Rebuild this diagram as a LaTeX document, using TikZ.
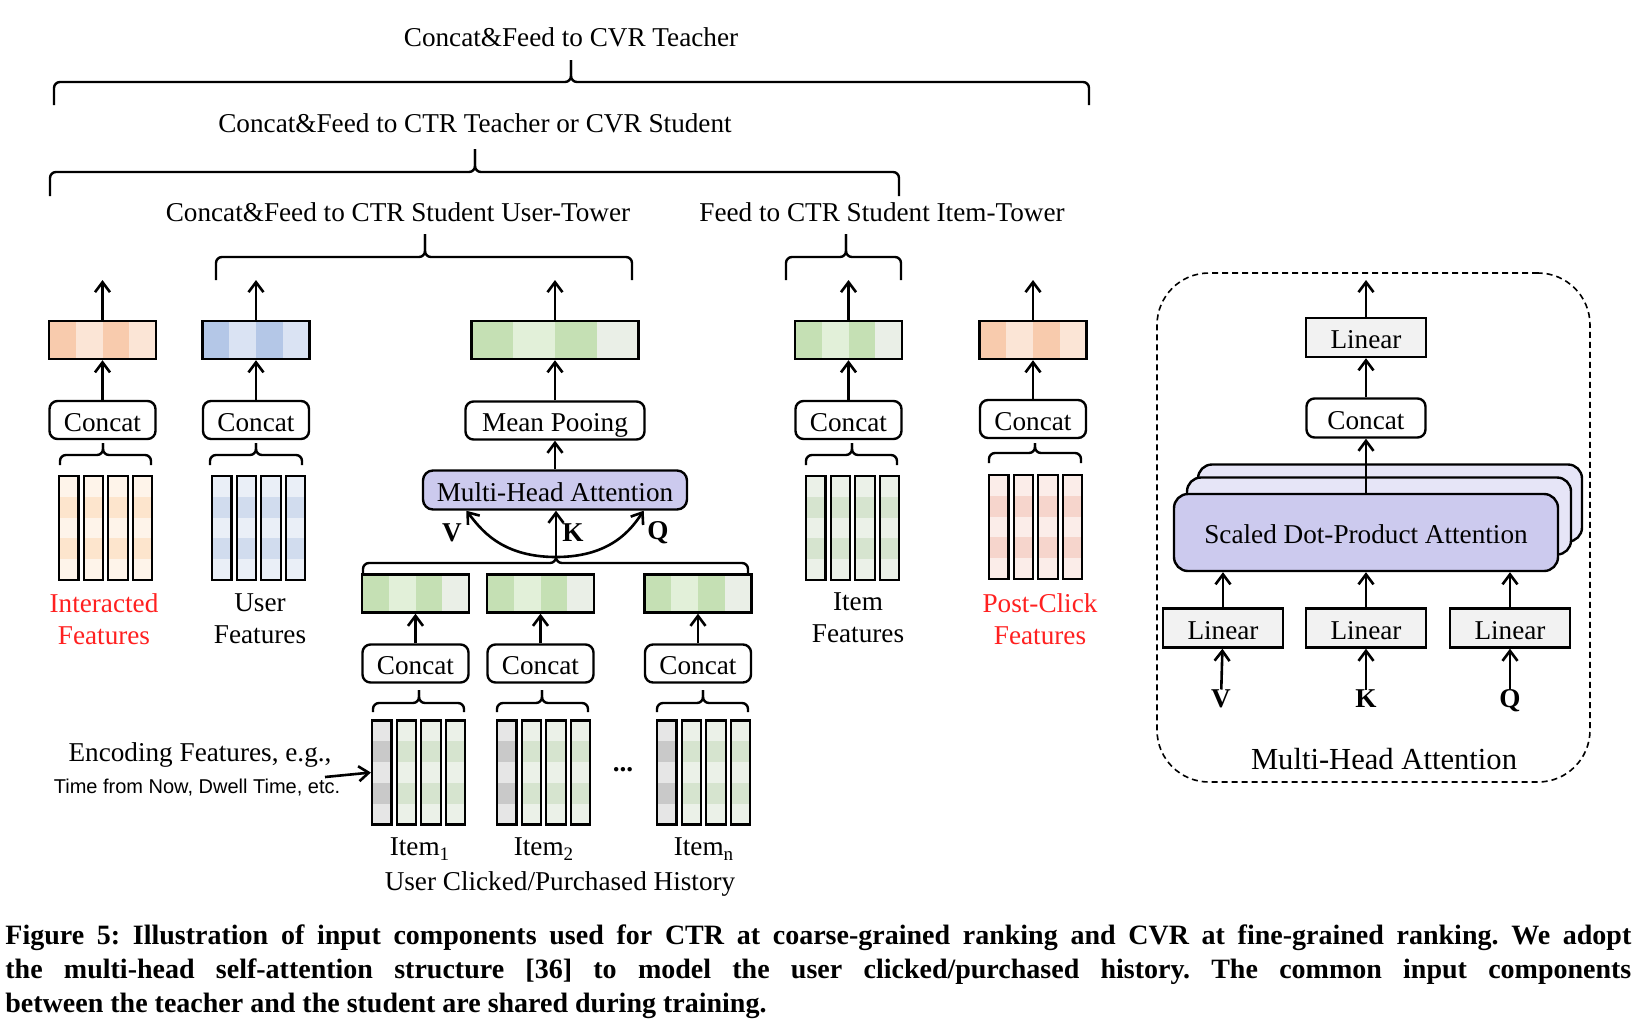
\documentclass[tikz,border=0pt]{standalone}
\usepackage{fontspec}
\setmainfont{Liberation Serif}
\setsansfont{Liberation Sans}
\usetikzlibrary{arrows.meta,calc,positioning}

% embedding bars
\definecolor{orD}{HTML}{F8CBAD}
\definecolor{orL}{HTML}{FBE5D6}
\definecolor{blD}{HTML}{B4C7E7}
\definecolor{blL}{HTML}{DAE3F3}
\definecolor{gnD}{HTML}{C5E0B4}
\definecolor{gnL}{HTML}{E2F0D9}
\definecolor{gnX}{HTML}{EAEFE7}
% feature columns
\definecolor{ocL}{HTML}{FEF4EA}
\definecolor{ocD}{HTML}{FDE5CD}
\definecolor{bcL}{HTML}{EAEFF7}
\definecolor{bcD}{HTML}{D1DCEE}
\definecolor{gcL}{HTML}{EBF1E8}
\definecolor{gcD}{HTML}{D6E4CF}
\definecolor{pcL}{HTML}{FBEDE9}
\definecolor{pcD}{HTML}{F6D5CC}
\definecolor{grL}{HTML}{E6E6E6}
\definecolor{grD}{HTML}{C9C9C9}
% blocks
\definecolor{attn}{HTML}{CCCAEE}
\definecolor{attnback}{HTML}{E6E5F7}
\definecolor{linfill}{HTML}{F2F2F2}
\definecolor{hlred}{HTML}{FF2020}

\tikzset{
  arr/.style={-{Straight Barb[length=5pt,width=7.5pt]}, line width=1.3pt},
  brc/.style={line width=1.2pt, rounded corners=3pt},
  lbl/.style={inner sep=0pt, align=center},
  boxtext/.style={text height=11pt, text depth=0pt},
  opbox/.style={draw, fill=white, rounded corners=4pt, line width=1.2pt,
    minimum width=53pt, minimum height=19pt, inner sep=0pt, boxtext},
  linbox/.style={draw, fill=linfill, line width=1.2pt,
    minimum width=60pt, minimum height=19.5pt, inner sep=0pt, boxtext},
  attbox/.style={draw, fill=attn, rounded corners=5pt, line width=1.2pt,
    minimum height=19.5pt, inner sep=0pt, boxtext},
  sdpaback/.style={draw, fill=attnback, rounded corners=7pt, line width=1.2pt,
    minimum width=192pt, minimum height=38.5pt},
  dashbox/.style={draw, dash pattern=on 3pt off 2pt, line width=0.8pt,
    rounded corners=26pt, minimum width=216.5pt, minimum height=254.5pt},
  qkv/.style={inner sep=0pt, font=\fontsize{13.6}{16}\selectfont\bfseries},
  emb/.style n args={3}{draw, line width=1.2pt, minimum width=53.5pt,
    minimum height=19pt, inner sep=0pt,
    path picture={\foreach \a/\b/\c in {0/0.25/#1,0.25/0.5/#2,0.5/0.75/#1,0.75/1/#3}
      \fill[\c] ($(path picture bounding box.south west)!\a!(path picture bounding box.south east)$)
        rectangle ($(path picture bounding box.north west)!\b!(path picture bounding box.north east)$);}},
  fcol/.style 2 args={draw, line width=1.1pt, minimum width=9.75pt,
    minimum height=52pt, inner sep=0pt,
    path picture={\foreach \a/\b/\c in {0/0.2/#1,0.2/0.4/#2,0.4/0.6/#1,0.6/0.8/#2,0.8/1/#1}
      \fill[\c] ($(path picture bounding box.north west)!\a!(path picture bounding box.south west)$)
        rectangle ($(path picture bounding box.north east)!\b!(path picture bounding box.south east)$);}},
  caption/.style={inner sep=0pt, font=\fontsize{14}{17}\selectfont\bfseries\frenchspacing}
}

% x1, x2, xtip, yline, yend, ytip
\newcommand{\grpbrace}[6]{%
  \draw[brc] (#1,#5) -- (#1,#4) -- (#3,#4) -- (#3,#6);
  \draw[brc] (#3,#6) -- (#3,#4) -- (#2,#4) -- (#2,#5);}

\begin{document}
\begin{tikzpicture}[x=0.5pt,y=-0.5pt,font=\fontsize{13.6}{16}\selectfont]
  \useasboundingbox (0,0) rectangle (1648,1030);
  \coordinate (top) at (0,280);

  % feed targets
  \node[lbl] (tCVRt) at (571,37) {Concat\&Feed to CVR Teacher};
  \grpbrace{54}{1089}{571}{82}{105}{60}
  \node[lbl] (tCTRt) at (475,123) {Concat\&Feed to CTR Teacher or CVR Student};
  \grpbrace{50}{899}{475}{172}{196}{149}
  \node[lbl] (tUser) at (398,212) {Concat\&Feed to CTR Student User-Tower};
  \grpbrace{216}{632}{425}{257}{280}{234}
  \node[lbl] (tItem) at (882,212) {Feed to CTR Student Item-Tower};
  \grpbrace{786}{901}{846}{257}{280}{234}

  % interacted features
  \node[emb={orD}{orL}{orL}] (embInt) at (102.5,340) {};
  \node[opbox] (catInt) at (102.5,420) {Concat};
  \foreach \i in {0,...,3}
    \node[fcol={ocL}{ocD}] (colInt\i) at (68.75+24.6*\i,528) {};
  \grpbrace{60}{151}{103}{455}{465}{443}
  \node[lbl, text=hlred] (lblInt) at (104,619) {Interacted\\Features};
  \draw[arr] (catInt) -- (embInt);
  \draw[arr] (embInt) -- (embInt |- top);

  % user features
  \node[emb={blD}{blL}{blL}] (embUser) at (256,340) {};
  \node[opbox] (catUser) at (256,420) {Concat};
  \foreach \i in {0,...,3}
    \node[fcol={bcL}{bcD}] (colUser\i) at (221.75+24.6*\i,528) {};
  \grpbrace{210}{302}{256}{455}{465}{443}
  \node[lbl] (lblUser) at (260,619) {User\\Features};
  \draw[arr] (catUser) -- (embUser);
  \draw[arr] (embUser) -- (embUser |- top);

  % clicked/purchased history
  \node[emb={gnD}{gnL}{gnX}, minimum width=83.5pt] (embHist) at (555,340) {};
  \node[opbox, minimum width=89.5pt] (meanPool) at (555,420.5) {Mean Pooing};
  \node[attbox, minimum width=132pt] (mha) at (555,490) {Multi-Head Attention};
  \draw[arr] (meanPool) -- (embHist);
  \draw[arr] (embHist) -- (embHist |- top);
  \draw[arr] (mha) -- (meanPool);

  \node[emb={gnD}{gnL}{gnX}] (embItem1) at (415.5,593.5) {};
  \node[emb={gnD}{gnL}{gnX}] (embItem2) at (540.5,593.5) {};
  \node[emb={gnD}{gnL}{gnX}] (embItemN) at (698,593.5) {};
  \node[opbox] (catItem1) at (415.5,663.5) {Concat};
  \node[opbox] (catItem2) at (540.5,663.5) {Concat};
  \node[opbox] (catItemN) at (698,663.5) {Concat};
  \draw[arr] (catItem1) -- (embItem1);
  \draw[arr] (catItem2) -- (embItem2);
  \draw[arr] (catItemN) -- (embItemN);

  \foreach \g/\x in {1/381.75,2/506.75,N/666.75}{
    \node[fcol={grL}{grD}] (hcol\g0) at (\x,772.5) {};
    \foreach \i in {1,2,3}
      \node[fcol={gcL}{gcD}] (hcol\g\i) at (\x+24.6*\i,772.5) {};
  }
  \grpbrace{373}{464}{419}{703}{712}{690}
  \grpbrace{497}{588}{542}{703}{712}{690}
  \grpbrace{657}{748}{703}{703}{712}{690}

  \node[lbl] (item1) at (420,849) {Item\textsubscript{1}};
  \node[lbl] (item2) at (544,849) {Item\textsubscript{2}};
  \node[lbl] (itemN) at (704,849) {Item\textsubscript{n}};
  \node[lbl] (dots) at (623,770) {\textbf{...}};
  \node[lbl] (histLbl) at (560,884) {User Clicked/Purchased History};

  \node[lbl] (encLbl) at (200,755) {Encoding Features, e.g.,};
  \node[lbl, font=\sffamily\fontsize{10}{12}\selectfont] (encEx) at (197,788) {Time from Now, Dwell Time, etc.};
  \coordinate (encEnd) at (325,777);
  \draw[arr] (encEnd) -- (hcol10.west);

  % V / K / Q into attention
  \grpbrace{363}{748}{556}{563}{573}{557}
  \coordinate (hist) at (556,557);
  \coordinate (mhaV) at ($(mha.south west)!0.167!(mha.south east)$);
  \coordinate (mhaQ) at ($(mha.south west)!0.833!(mha.south east)$);
  \draw[arr] (hist) .. controls (500,557) and (480,528) .. (mhaV);
  \draw[arr] (hist) -- (hist |- mha.south);
  \draw[arr] (hist) .. controls (612,557) and (632,528) .. (mhaQ);
  \node[qkv] (lV) at (452,533) {V};
  \node[qkv] (lK) at (573,533) {K};
  \node[qkv] (lQ) at (658,533) {Q};

  % item features
  \node[emb={gnD}{gnL}{gnX}] (embItem) at (848.5,340) {};
  \node[opbox] (catItem) at (848.5,420) {Concat};
  \foreach \i in {0,...,3}
    \node[fcol={gcL}{gcD}] (colItem\i) at (815.75+24.6*\i,528) {};
  \grpbrace{806}{897}{852}{455}{465}{443}
  \node[lbl] (lblItem) at (858,618) {Item\\Features};
  \draw[arr] (catItem) -- (embItem);
  \draw[arr] (embItem) -- (embItem |- top);

  % post-click features
  \node[emb={orD}{orL}{orL}] (embPost) at (1033,340) {};
  \node[opbox] (catPost) at (1033,419) {Concat};
  \foreach \i in {0,...,3}
    \node[fcol={pcL}{pcD}] (colPost\i) at (998.75+24.6*\i,527) {};
  \grpbrace{989}{1081}{1035}{453}{463}{443}
  \node[lbl, text=hlred] (lblPost) at (1040,619) {Post-Click\\Features};
  \draw[arr] (catPost) -- (embPost);
  \draw[arr] (embPost) -- (embPost |- top);

  % multi-head attention detail
  \node[dashbox] (mhaPanel) at (1373.5,527.5) {};
  \node[lbl, font=\fontsize{15.3}{18}\selectfont] (mhaTitle) at (1384,759) {Multi-Head Attention};
  \node[sdpaback] (sdpa3) at (1390,503) {};
  \node[sdpaback] (sdpa2) at (1379,516) {};
  \node[attbox, rounded corners=7pt, minimum width=192pt, minimum height=38.5pt] (sdpa) at (1366,532.5) {Scaled Dot-Product Attention};
  \node[opbox, minimum width=59.5pt, minimum height=19.5pt] (mCat) at (1366,418) {Concat};
  \node[linbox] (mLin) at (1366,337.5) {Linear};
  \node[linbox] (linV) at (1223,628) {Linear};
  \node[linbox] (linK) at (1366,628) {Linear};
  \node[linbox] (linQ) at (1510,628) {Linear};
  \node[qkv] (inV) at (1221,699) {V};
  \node[qkv] (inK) at (1366,699) {K};
  \node[qkv] (inQ) at (1510,701) {Q};
  \draw[arr] (inV) -- (linV);
  \draw[arr] (inK) -- (linK);
  \draw[arr] (inQ) -- (linQ);
  \draw[arr] (linV) -- (linV |- sdpa.south);
  \draw[arr] (linK) -- (sdpa);
  \draw[arr] (linQ) -- (linQ |- sdpa.south);
  \draw[arr] (sdpa) -- (mCat);
  \draw[arr] (mCat) -- (mLin);
  \draw[arr] (mLin) -- (mLin |- top);

  % caption
  \node[caption, anchor=base west] (cap1) at (5,944) {\makebox[813pt][s]{Figure 5: Illustration of input components used for CTR at coarse-grained ranking and CVR at fine-grained ranking. We adopt}};
  \node[caption, anchor=base west] (cap2) at (5,978) {\makebox[813pt][s]{the multi-head self-attention structure [36] to model the user clicked/purchased history. The common input components}};
  \node[caption, anchor=base west] (cap3) at (5,1012) {between the teacher and the student are shared during training.};
\end{tikzpicture}
\end{document}
